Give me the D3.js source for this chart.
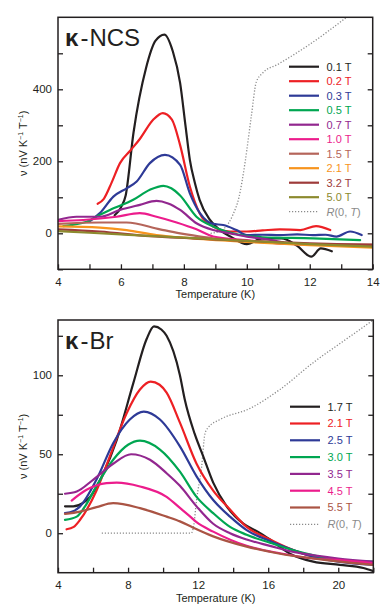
<!DOCTYPE html>
<html>
<head>
<meta charset="utf-8">
<script src="https://cdn.jsdelivr.net/npm/d3@7"></script>
<style>
    body { margin: 0; background: #fff; }
    svg { display: block; font-family: "Liberation Sans", Arial, sans-serif; }
</style>
</head>
<body>
<div id="chart"></div>
<script>
// ---- κ-NCS data: [T (K), ν (nV K-1 T-1)] ----
const ncsFields = ['0.1 T', '0.2 T', '0.3 T', '0.5 T', '0.7 T', '1.0 T', '1.5 T', '2.1 T', '3.2 T', '5.0 T'];
const ncs01 = [[5.8, 50], [6.0, 72], [6.15, 105], [6.4, 280], [6.8, 460], [7.1, 535], [7.38, 552], [7.65, 505], [7.88, 418], [8.05, 300], [8.19, 204], [8.35, 140], [8.5, 93], [8.83, 37], [9.15, 9], [9.5, -10], [10.0, -30], [10.5, -14], [11.1, -14], [11.6, -35], [12.05, -65], [12.35, -42], [12.7, -50]];
const ncs02 = [[5.26, 82], [5.45, 95], [5.7, 140], [5.97, 195], [6.3, 230], [6.6, 262], [7.03, 316], [7.33, 334], [7.62, 316], [7.88, 245], [8.19, 130], [8.5, 56], [8.93, 19], [9.47, 5], [10.0, 5], [10.5, 8], [11.05, 11], [11.7, 9], [12.2, 20], [12.65, 9]];
const ncs03 = [[4.98, 32], [5.33, 56], [5.76, 102], [6.18, 125], [6.5, 144], [6.92, 195], [7.4, 218], [7.88, 190], [8.19, 111], [8.51, 56], [8.93, 26], [9.25, 23], [9.67, 9], [10.0, -5], [10.5, -4], [11.05, -5], [11.6, -3], [12.1, -5], [12.5, -4], [12.85, -9], [13.28, 5], [13.65, -5]];
const ncs05 = [[4.17, 20], [4.5, 24], [4.91, 32], [5.3, 50], [5.65, 65], [6.39, 93], [6.92, 121], [7.35, 132], [7.6, 125], [7.88, 105], [8.4, 46], [8.93, 19], [9.56, 0], [10.5, -11], [12.1, -14], [13.6, -19]];
const ncs07 = [[4.0, 37], [4.59, 46], [5.33, 46], [5.97, 65], [6.6, 79], [7.13, 90], [7.5, 83], [7.88, 65], [8.4, 28], [8.93, 9], [9.47, 0], [10.0, -9], [10.6, -16], [11.15, -25]];
const ncs10 = [[4.0, 34], [4.8, 37], [5.86, 46], [6.6, 56], [7.13, 46], [7.77, 30], [8.4, 11], [8.93, -9], [10.0, -19], [11.05, -28], [12.5, -32], [14.0, -34]];
const ncs15 = [[4.0, 26], [5.33, 30], [6.18, 30], [7.24, 11], [7.88, 0], [8.29, -6], [8.93, -14], [10.0, -22], [11.05, -28], [12.5, -31], [14.0, -31]];
const ncs21 = [[4.0, 19], [5.33, 16], [6.18, 9], [7.13, -5], [8.29, -14], [10.0, -24], [12.0, -33], [14.0, -40]];
const ncs32 = [[4.0, 11], [5.33, 5], [6.92, -8], [8.29, -14], [10.0, -21], [12.0, -28], [14.0, -33]];
const ncs50 = [[4.0, 6], [6.0, -3], [8.0, -12], [10.0, -21], [12.0, -30], [14.0, -37]];
const ncsR = [[8.85, 0], [9.0, 2], [9.3, 15], [9.55, 50], [9.75, 100], [9.95, 200], [10.15, 330], [10.3, 420], [10.5, 445], [11.0, 470], [12.0, 525], [13.2, 602]];
const ncsXTicks = [4, 5, 6, 7, 8, 9, 10, 11, 12, 13, 14];
const ncsXLabels = [4, 6, 8, 10, 12, 14];
const ncsYTicks = [-100, 0, 100, 200, 300, 400, 500];
const ncsYLabels = [0, 200, 400];

// ---- κ-Br data ----
const brFields = ['1.7 T', '2.1 T', '2.5 T', '3.0 T', '3.5 T', '4.5 T', '5.5 T'];
const br17 = [[4.4, 17], [4.87, 17], [5.4, 19], [5.83, 23], [6.59, 38], [7.35, 59], [8.3, 95], [9.06, 123], [9.48, 131], [9.9, 129], [10.2, 125], [10.96, 100], [11.23, 85], [11.8, 63], [12.28, 49], [12.86, 32], [13.63, 17], [14.58, 6], [15.4, 1], [16.1, -4], [17.24, -13], [18.57, -18], [20.1, -20], [21.43, -22], [22, -24]];
const br21 = [[4.49, 2.5], [4.9, 4], [5.26, 8.5], [6.2, 27], [6.97, 49], [7.92, 76], [8.68, 91], [9.29, 96], [9.8, 94], [10.2, 89], [10.96, 70], [11.91, 44], [12.86, 27], [13.82, 15], [14.77, 4], [16.1, -4], [17.5, -11], [18.6, -15], [20, -17], [22, -19]];
const br25 = [[4.4, 12.7], [4.9, 14], [5.26, 17], [6.2, 34], [7.15, 57], [8.1, 72], [8.9, 77], [9.82, 72], [10.96, 55], [11.91, 36], [12.86, 21], [13.82, 10.5], [14.77, 2], [16.1, -5], [17.5, -11], [18.6, -15], [20, -18], [22, -20]];
const br30 = [[4.4, 8.5], [5.07, 10.5], [5.6, 18], [6.2, 30], [7.15, 46.5], [8.0, 56], [8.68, 58.6], [9.82, 53], [10.96, 39], [11.91, 23], [12.86, 12.7], [13.82, 4], [14.77, -1], [16.1, -6], [17.5, -11], [18.6, -14], [20, -17], [22, -18]];
const br35 = [[4.4, 25], [5.07, 26.4], [6.02, 34], [7.15, 44], [8.17, 50], [9.25, 46.5], [10.2, 38], [10.96, 30], [11.91, 17], [12.86, 6], [13.82, 0], [14.77, -4], [16.1, -8], [17.5, -12], [18.6, -14], [20, -16], [22, -18]];
const br45 = [[4.78, 20.7], [5.63, 27.5], [6.77, 31.7], [7.35, 32], [8.68, 29.6], [10.2, 23], [10.96, 16], [11.5, 11], [11.91, 7], [12.86, 1], [14.77, -8], [16.67, -12.7], [18.57, -16], [20.1, -17], [22, -19]];
const br55 = [[4.4, 12.2], [5.26, 13.7], [6.2, 16.5], [7.15, 19], [8.68, 15.9], [10.2, 10.5], [10.96, 7.5], [11.72, 3.5], [12.86, -2], [14.77, -8.5], [16.67, -13], [18.57, -16], [20.1, -18], [22, -20]];
const brR = [[6.5, 0], [11.6, 0], [11.75, 5], [11.91, 21], [12.2, 42], [12.39, 63], [12.58, 67], [13.25, 72], [14.96, 79], [16.67, 91], [18.57, 108], [20.47, 123], [22, 135]];
const brXTicks = [4, 6, 8, 10, 12, 14, 16, 18, 20, 22];
const brXLabels = [4, 8, 12, 16, 20];
const brYTicks = [0, 25, 50, 75, 100, 125];
const brYLabels = [0, 50, 100];

const ncsColors = ['#231f20', '#ed2024', '#2e3a97', '#00a651', '#92278f', '#ec1c8c', '#b5655a', '#f7941d', '#9e3b3a', '#8c8a2e'];
const brColors = ['#231f20', '#ed2024', '#2e3a97', '#00a651', '#92278f', '#ec1c8c', '#aa5444'];

const W = 381, H = 610;
const svg = d3.select('#chart').append('svg')
    .attr('width', W)
    .attr('height', H);

function drawPanel(p) {
    const x = d3.scaleLinear().domain(p.xDomain).range([p.left, p.right]);
    const y = d3.scaleLinear().domain(p.yDomain).range([p.bottom, p.top]);
    const g = svg.append('g');

    g.append('clipPath').attr('id', p.id + '-clip')
        .append('rect')
        .attr('x', p.left).attr('y', p.top)
        .attr('width', p.right - p.left).attr('height', p.bottom - p.top);

    const fmtX = d => p.xLabels.includes(d) ? d : '';
    const fmtY = d => p.yLabels.includes(d) ? d : '';

    // axes, ticks inward
    g.append('g')
        .attr('transform', 'translate(0,' + p.bottom + ')')
        .call(d3.axisBottom(x).tickValues(p.xTicks).tickFormat(fmtX).tickSizeInner(-5).tickSizeOuter(0).tickPadding(8.5))
        .call(a => a.select('.domain').remove());
    g.append('g')
        .attr('transform', 'translate(' + p.left + ',0)')
        .call(d3.axisLeft(y).tickValues(p.yTicks).tickFormat(fmtY).tickSizeInner(-5).tickSizeOuter(0).tickPadding(6))
        .call(a => a.select('.domain').remove());
    g.append('g')
        .attr('transform', 'translate(' + p.right + ',0)')
        .call(d3.axisRight(y).tickValues(p.yTicks).tickFormat('').tickSizeInner(-5).tickSizeOuter(0))
        .call(a => a.select('.domain').remove());
    g.selectAll('.tick line').attr('stroke', '#231f20').attr('stroke-width', 1.3);
    g.selectAll('.tick text').attr('font-size', 11.5).attr('fill', '#231f20')
        .attr('font-family', '"Liberation Sans", Arial, sans-serif');

    const line = d3.line()
        .x(d => x(d[0]))
        .y(d => y(d[1]))
        .curve(d3.curveMonotoneX);

    const plot = g.append('g').attr('clip-path', 'url(#' + p.id + '-clip)');

    plot.append('path')
        .attr('d', line(p.rCurve))
        .attr('fill', 'none')
        .attr('stroke', '#8a8a8a')
        .attr('stroke-width', 1.3)
        .attr('stroke-dasharray', '1.2,1.8');

    p.series.forEach((s, i) => {
        plot.append('path')
            .attr('d', line(s))
            .attr('fill', 'none')
            .attr('stroke', p.colors[i])
            .attr('stroke-width', 2.2)
            .attr('stroke-linejoin', 'round')
            .attr('stroke-linecap', 'round');
    });

    // frame
    g.append('rect')
        .attr('x', p.left).attr('y', p.top)
        .attr('width', p.right - p.left).attr('height', p.bottom - p.top)
        .attr('fill', 'none')
        .attr('stroke', '#231f20')
        .attr('stroke-width', 1.5);

    // title
    const title = g.append('text')
        .attr('x', p.left + 7)
        .attr('y', p.top + 28.5)
        .attr('font-size', 24)
        .attr('fill', '#231f20');
    title.append('tspan').attr('font-weight', 'bold').text('κ');
    title.append('tspan').attr('dx', 2).text('-');
    title.append('tspan').attr('dx', 1).text(p.title);

    // y label
    const yl = g.append('text')
        .attr('transform', 'translate(26.5,' + (p.top + p.bottom) / 2 + ') rotate(-90)')
        .attr('text-anchor', 'middle')
        .attr('font-size', 11)
        .attr('fill', '#231f20');
    yl.append('tspan').text('ν (nV K');
    yl.append('tspan').attr('font-size', 7).attr('dy', -4).text('−1');
    yl.append('tspan').attr('dy', 4).text(' T');
    yl.append('tspan').attr('font-size', 7).attr('dy', -4).text('−1');
    yl.append('tspan').attr('dy', 4).text(')');

    // x label
    g.append('text')
        .attr('x', (p.left + p.right) / 2)
        .attr('y', p.bottom + 29)
        .attr('text-anchor', 'middle')
        .attr('font-size', 11)
        .attr('fill', '#231f20')
        .text('Temperature (K)');

    // legend
    const lg = g.append('g');
    p.fields.forEach((f, i) => {
        const ly = p.legendTop + i * p.legendStep;
        lg.append('line')
            .attr('x1', p.legendX).attr('x2', p.legendX + 30)
            .attr('y1', ly).attr('y2', ly)
            .attr('stroke', p.colors[i])
            .attr('stroke-width', 2.2);
        lg.append('text')
            .attr('x', p.legendX + 37.5)
            .attr('y', ly)
            .attr('dy', '0.36em')
            .attr('font-size', 11)
            .attr('fill', p.colors[i])
            .text(f);
    });
    const ry = p.legendTop + p.fields.length * p.legendStep;
    lg.append('line')
        .attr('x1', p.legendX).attr('x2', p.legendX + 30)
        .attr('y1', ry).attr('y2', ry)
        .attr('stroke', '#8a8a8a')
        .attr('stroke-width', 1.3)
        .attr('stroke-dasharray', '1.2,1.8');
    const rt = lg.append('text')
        .attr('x', p.legendX + 37.5)
        .attr('y', ry)
        .attr('dy', '0.36em')
        .attr('font-size', 11)
        .attr('fill', '#8a8a8a');
    rt.append('tspan').attr('font-style', 'italic').text('R');
    rt.append('tspan').text('(0, ');
    rt.append('tspan').attr('font-style', 'italic').text('T');
    rt.append('tspan').text(')');
}

drawPanel({
    id: 'ncs', title: 'NCS',
    left: 58, right: 372.7, top: 17.3, bottom: 269.3,
    xDomain: [4, 14], yDomain: [-100, 600],
    xTicks: ncsXTicks, xLabels: ncsXLabels, yTicks: ncsYTicks, yLabels: ncsYLabels,
    series: [ncs01, ncs02, ncs03, ncs05, ncs07, ncs10, ncs15, ncs21, ncs32, ncs50],
    fields: ncsFields, colors: ncsColors, rCurve: ncsR,
    legendX: 289, legendTop: 66.7, legendStep: 14.5
});

drawPanel({
    id: 'br', title: 'Br',
    left: 58, right: 373.3, top: 320, bottom: 572.7,
    xDomain: [4, 22], yDomain: [-25, 135],
    xTicks: brXTicks, xLabels: brXLabels, yTicks: brYTicks, yLabels: brYLabels,
    series: [br17, br21, br25, br30, br35, br45, br55],
    fields: brFields, colors: brColors, rCurve: brR,
    legendX: 290, legendTop: 406.7, legendStep: 16.8
});
</script>
</body>
</html>
